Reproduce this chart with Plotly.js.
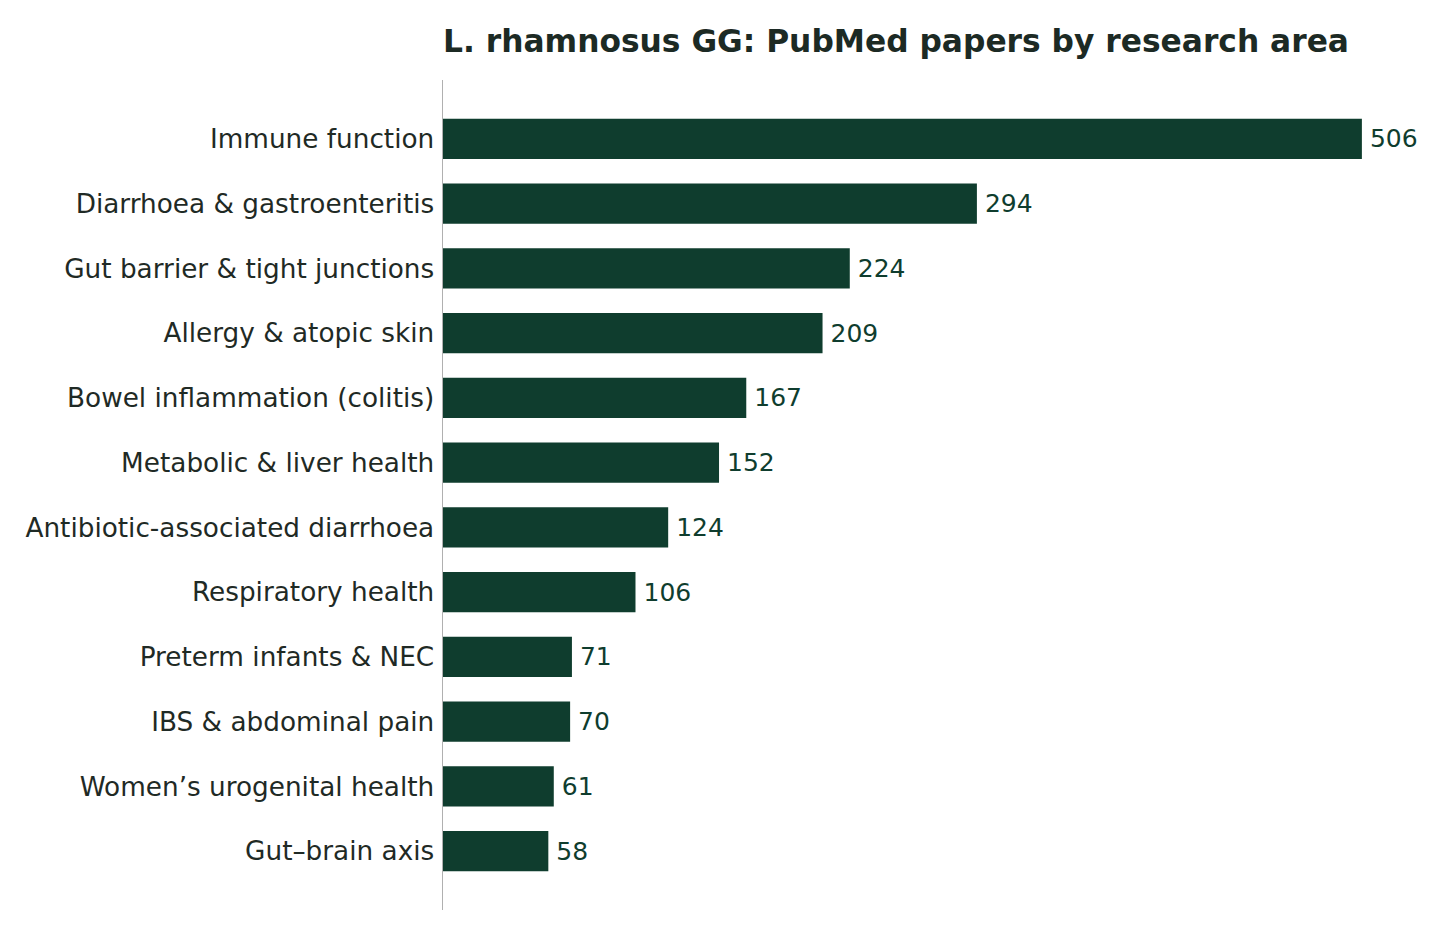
<!DOCTYPE html>
<html>
<head>
<meta charset="utf-8">
<script src="https://cdn.plot.ly/plotly-3.0.1.min.js"></script>
<style>html,body{margin:0;padding:0;background:#fff;}#chart{width:1440px;height:936px;}</style>
</head>
<body>
<div id="chart"></div>
<script>
const categories = [
  "Immune function",
  "Diarrhoea & gastroenteritis",
  "Gut barrier & tight junctions",
  "Allergy & atopic skin",
  "Bowel inflammation (colitis)",
  "Metabolic & liver health",
  "Antibiotic-associated diarrhoea",
  "Respiratory health",
  "Preterm infants & NEC",
  "IBS & abdominal pain",
  "Women\u2019s urogenital health",
  "Gut\u2013brain axis"
];
const papers = [506, 294, 224, 209, 167, 152, 124, 106, 71, 70, 61, 58];
const chartTitle = "L. rhamnosus GG: PubMed papers by research area";

const barColor = "#0f3d2e";
const font = "DejaVu Sans, Verdana, sans-serif";

const trace = {
  type: "bar",
  orientation: "h",
  y: categories,
  x: papers,
  marker: {color: barColor},
  width: 0.62,
  text: papers.map(v => "\u2009" + v),
  textposition: "outside",
  textfont: {family: font, size: 25, color: barColor},
  outsidetextfont: {family: font, size: 25, color: barColor},
  constraintext: "none",
  cliponaxis: false,
  hoverinfo: "x+y"
};

const layout = {
  width: 1440,
  height: 936,
  paper_bgcolor: "#ffffff",
  plot_bgcolor: "#ffffff",
  margin: {l: 443, r: 20, t: 80, b: 26},
  showlegend: false,
  title: {
    text: "<b>" + chartTitle + "</b>",
    font: {family: font, size: 31.3, color: "#1c2a24"},
    xref: "paper", x: 0, xanchor: "left",
    yref: "container", y: 1 - 41/936, yanchor: "middle"
  },
  xaxis: {
    range: [0, 538],
    showgrid: false, zeroline: false, showline: false,
    showticklabels: false, ticks: ""
  },
  yaxis: {
    type: "category",
    range: [11.91, -0.91],
    showgrid: false, zeroline: false,
    showline: true, linecolor: "#b0b0b0", linewidth: 1.5,
    ticks: "", ticklabelstandoff: 2,
    tickfont: {family: font, size: 26.3, color: "#1f2a25"}
  }
};

Plotly.newPlot("chart", [trace], layout, {displayModeBar: false, staticPlot: true});
</script>
</body>
</html>
